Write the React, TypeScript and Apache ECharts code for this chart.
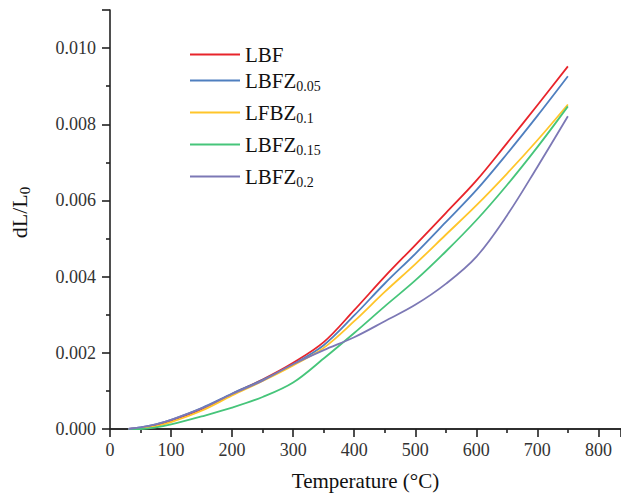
import React, { useEffect, useRef } from "react";
import * as echarts from "echarts";

const temps = [30, 50, 75, 100, 150, 200, 250, 300, 350, 400, 450, 500, 550, 600, 650, 700, 750];
const lbf = [0, 0.00003, 0.0001, 0.00022, 0.00052, 0.00092, 0.0013, 0.00174, 0.00228, 0.00312, 0.004, 0.00483, 0.00567, 0.00652, 0.0075, 0.0085, 0.00952];
const lbfz005 = [0, 0.00004, 0.00012, 0.00024, 0.00055, 0.00093, 0.00129, 0.0017, 0.0022, 0.00298, 0.00382, 0.0046, 0.00543, 0.00627, 0.00722, 0.00822, 0.00926];
const lfbz01 = [0, 0.00001, 0.00007, 0.00018, 0.00048, 0.00088, 0.00126, 0.00167, 0.00213, 0.00283, 0.0036, 0.00433, 0.0051, 0.00587, 0.0067, 0.00758, 0.00852];
const lbfz015 = [0, 0, 0.00004, 0.00012, 0.00033, 0.00056, 0.00084, 0.00122, 0.00185, 0.00252, 0.00322, 0.0039, 0.00466, 0.00548, 0.0064, 0.0074, 0.00847];
const lbfz02 = [0, 0.00004, 0.00012, 0.00024, 0.00054, 0.00092, 0.00127, 0.0017, 0.00207, 0.00241, 0.00283, 0.00326, 0.00381, 0.00452, 0.0056, 0.00688, 0.00821];

const nameMain = ["LBF", "LBFZ", "LFBZ", "LBFZ", "LBFZ"];
const nameSub = ["", "0.05", "0.1", "0.15", "0.2"];
const seriesValues = [lbf, lbfz005, lfbz01, lbfz015, lbfz02];
const colors = ["#E8242B", "#4F7FBF", "#FFC52A", "#46C57A", "#7C78B5"];
const legendTops = [44, 70, 102, 134, 166];

const FONT = "Liberation Serif";

export default function App() {
  const ref = useRef<HTMLDivElement>(null);
  useEffect(() => {
    if (!ref.current) return;
    const chart = echarts.init(ref.current, null, { renderer: "svg" });
    const names = nameMain.map((m, i) => m + nameSub[i]);
    const rich = {
      m: { fontSize: 21, fontFamily: FONT, color: "#111", lineHeight: 26 },
      s: { fontSize: 14, fontFamily: FONT, color: "#111", lineHeight: 10, verticalAlign: "bottom" },
    };
    const tickRich = { t: { fontFamily: FONT, fontSize: 18, color: "#333" } };
    const option: any = {
      animation: false,
      backgroundColor: "#fff",
      textStyle: { fontFamily: FONT },
      grid: { left: 109, right: 0, top: 10, bottom: 66 },
      legend: names.map((n, i) => ({
        data: [n],
        left: 190,
        top: legendTops[i],
        padding: 0,
        icon: "rect",
        itemWidth: 50,
        itemHeight: 2,
        selectedMode: false,
        formatter: () =>
          nameSub[i] ? `{m|${nameMain[i]}}{s|${nameSub[i]}}` : `{m|${nameMain[i]}}`,
        textStyle: { fontFamily: FONT, rich },
      })),
      xAxis: [
        {
          type: "value",
          min: 0,
          max: 837,
          interval: 100,
          name: "Temperature (°C)",
          nameLocation: "middle",
          nameGap: 41,
          nameTextStyle: { fontFamily: FONT, fontSize: 21, color: "#111" },
          axisLine: { show: true, onZero: false, lineStyle: { color: "#222", width: 1.6 } },
          axisTick: { show: true, inside: false, length: 8, lineStyle: { color: "#222", width: 1.6 } },
          minorTick: { show: true, splitNumber: 2, length: 4, lineStyle: { color: "#222", width: 1.6 } },
          axisLabel: {
            fontFamily: FONT,
            fontSize: 18,
            color: "#333",
            margin: 12,
            showMaxLabel: false,
            formatter: (v: number) => `{t|${v}}`,
            rich: tickRich,
          },
          splitLine: { show: false },
        },
        {
          type: "value",
          position: "top",
          min: 0,
          max: 837,
          axisLine: { show: true, lineStyle: { color: "#222", width: 1.6 } },
          axisTick: { show: false },
          axisLabel: { show: false },
          splitLine: { show: false },
        },
      ],
      yAxis: {
        type: "value",
        min: 0,
        max: 0.011,
        interval: 0.002,
        name: "{a|dL/L}{b|0}",
        nameLocation: "middle",
        nameGap: 78,
        nameTextStyle: {
          padding: [0, 0, 0, 14],
          fontFamily: FONT,
          rich: {
            a: { fontSize: 22, fontFamily: FONT, color: "#111", lineHeight: 26 },
            b: { fontSize: 15, fontFamily: FONT, color: "#111", lineHeight: 10, verticalAlign: "bottom" },
          },
        },
        axisLine: { show: true, onZero: false, lineStyle: { color: "#222", width: 1.6 } },
        axisTick: { show: true, inside: false, length: 8, lineStyle: { color: "#222", width: 1.6 } },
        minorTick: { show: true, splitNumber: 2, length: 4, lineStyle: { color: "#222", width: 1.6 } },
        axisLabel: {
          fontFamily: FONT,
          fontSize: 18,
          color: "#333",
          margin: 14,
          showMaxLabel: false,
          formatter: (v: number) => `{t|${v.toFixed(3)}}`,
          rich: tickRich,
        },
        splitLine: { show: false },
      },
      series: names.map((n, i) => ({
        name: n,
        type: "line",
        xAxisIndex: 0,
        data: temps.map((t, j) => [t, seriesValues[i][j]]),
        smooth: 0.35,
        symbol: "none",
        showSymbol: false,
        lineStyle: { color: colors[i], width: 1.8 },
        itemStyle: { color: colors[i] },
      })),
    };
    chart.setOption(option);
    return () => chart.dispose();
  }, []);
  return (
    <div
      ref={ref}
      style={{ position: "absolute", left: 0, top: 0, width: 621, height: 496 }}
    />
  );
}
